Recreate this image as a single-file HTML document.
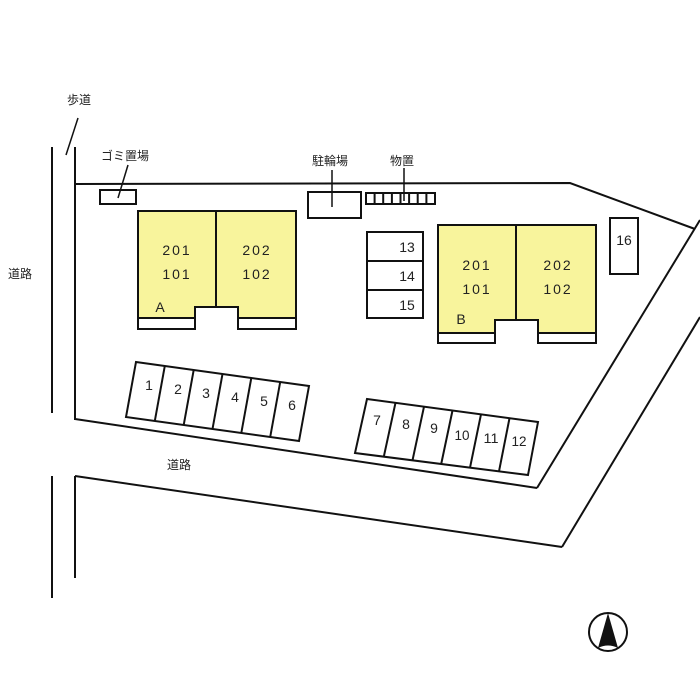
<!DOCTYPE html>
<html><head><meta charset="utf-8"><style>
html,body{margin:0;padding:0;background:#fff;}
svg{display:block}
text{font-family:"Liberation Sans","Noto Sans CJK JP",sans-serif;fill:#222;}
.j{font-size:12px;}
.n{font-size:14px;}
</style></head><body>
<svg width="700" height="700" viewBox="0 0 700 700" xmlns="http://www.w3.org/2000/svg">
<g stroke="#111" stroke-width="2" fill="none">
<line x1="52" y1="147" x2="52" y2="413"/>
<line x1="52" y1="476" x2="52" y2="598"/>
<line x1="75" y1="147" x2="75" y2="420"/>
<line x1="75" y1="476" x2="75" y2="578"/>
<polyline points="75,184 570,183 695,229"/>
<line x1="75" y1="419" x2="537" y2="488"/>
<line x1="537" y1="488" x2="700" y2="220"/>
<line x1="75" y1="476" x2="562" y2="547"/>
<line x1="562" y1="547" x2="700" y2="317"/>
<line x1="78" y1="118" x2="66" y2="155" stroke-width="1.5"/>
<line x1="128" y1="165" x2="118" y2="198" stroke-width="1.5"/>
<line x1="332" y1="170" x2="332" y2="207" stroke-width="1.5"/>
<line x1="404" y1="168" x2="404" y2="201" stroke-width="1.5"/>
<rect x="100" y="190" width="36" height="14"/>
<rect x="308" y="192" width="53" height="26"/>
<rect x="366" y="193" width="69" height="11"/>
<line x1="374.6" y1="193" x2="374.6" y2="204"/><line x1="383.2" y1="193" x2="383.2" y2="204"/>
<line x1="391.9" y1="193" x2="391.9" y2="204"/><line x1="400.5" y1="193" x2="400.5" y2="204"/>
<line x1="409.1" y1="193" x2="409.1" y2="204"/><line x1="417.7" y1="193" x2="417.7" y2="204"/>
<line x1="426.4" y1="193" x2="426.4" y2="204"/>
<rect x="367" y="232" width="56" height="86"/>
<line x1="367" y1="261" x2="423" y2="261"/><line x1="367" y1="290" x2="423" y2="290"/>
<rect x="610" y="218" width="28" height="56"/>
<path d="M138,211 H296 V318 H238 V307 H195 V318 H138 Z" fill="#f8f49c"/>
<line x1="216" y1="211" x2="216" y2="307"/>
<path d="M138,318 V329 H195 V318 M238,318 V329 H296 V318"/>
<path d="M438,225 H596 V333 H538 V320 H495 V333 H438 Z" fill="#f8f49c"/>
<line x1="516" y1="225" x2="516" y2="320"/>
<path d="M438,333 V343 H495 V333 M538,333 V343 H596 V333"/>
<polygon points="136,362 309,386 299,441 126,417"/>
<line x1="164.8" y1="366" x2="154.8" y2="421"/>
<line x1="193.7" y1="370" x2="183.7" y2="425"/>
<line x1="222.5" y1="374" x2="212.5" y2="429"/>
<line x1="251.3" y1="378" x2="241.3" y2="433"/>
<line x1="280.2" y1="382" x2="270.2" y2="437"/>
<polygon points="367,399 538,422 528,475 355,453"/>
<line x1="395.5" y1="402.8" x2="383.8" y2="456.7"/>
<line x1="424" y1="406.7" x2="412.5" y2="460.3"/>
<line x1="452.5" y1="410.5" x2="441.2" y2="464"/>
<line x1="481" y1="414.3" x2="470" y2="467.7"/>
<line x1="509.5" y1="418.2" x2="499" y2="471.3"/>
<circle cx="608" cy="632" r="19"/>
</g>
<path d="M608,613 L618,648 Q608,643 598,648 Z" fill="#111"/>
<text class="j" x="67" y="104">歩道</text>
<text class="j" x="101" y="160">ゴミ置場</text>
<text class="j" x="312" y="165">駐輪場</text>
<text class="j" x="390" y="165">物置</text>
<text class="j" x="8" y="278">道路</text>
<text class="j" x="167" y="469">道路</text>
<g class="n" text-anchor="middle">
<text x="177" y="255" letter-spacing="2">201</text>
<text x="177" y="279" letter-spacing="2">101</text>
<text x="257" y="255" letter-spacing="2">202</text>
<text x="257" y="279" letter-spacing="2">102</text>
<text x="477" y="270" letter-spacing="2">201</text>
<text x="477" y="294" letter-spacing="2">101</text>
<text x="558" y="270" letter-spacing="2">202</text>
<text x="558" y="294" letter-spacing="2">102</text>
<text x="160" y="312">A</text>
<text x="461" y="324">B</text>
<text x="407" y="252">13</text>
<text x="407" y="281">14</text>
<text x="407" y="310">15</text>
<text x="624" y="245">16</text>
<text x="149" y="390">1</text>
<text x="178" y="394">2</text>
<text x="206" y="398">3</text>
<text x="235" y="402">4</text>
<text x="264" y="406">5</text>
<text x="292" y="410">6</text>
<text x="377" y="425">7</text>
<text x="406" y="429">8</text>
<text x="434" y="433">9</text>
<text x="462" y="440" textLength="15" lengthAdjust="spacingAndGlyphs">10</text>
<text x="491" y="443" textLength="15" lengthAdjust="spacingAndGlyphs">11</text>
<text x="519" y="446" textLength="15" lengthAdjust="spacingAndGlyphs">12</text>
</g>
</svg>
</body></html>
